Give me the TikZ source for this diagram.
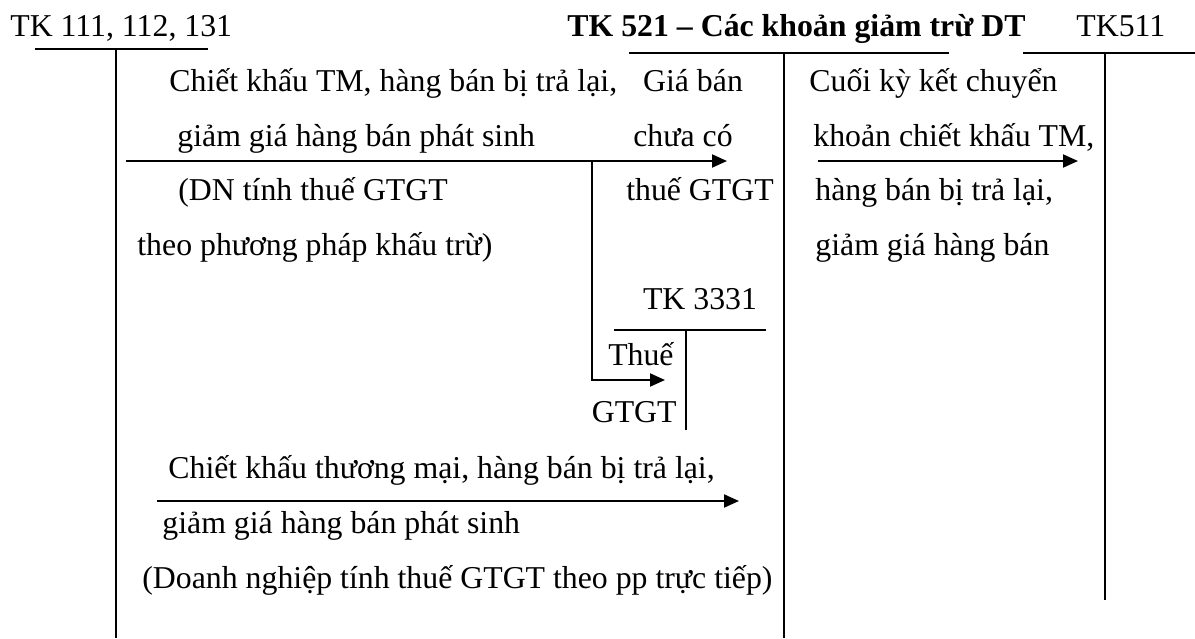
\documentclass[tikz,border=0pt]{standalone}
\usepackage{fontspec}
\setmainfont{Liberation Serif}
\usepackage{tikz}
\usetikzlibrary{positioning}
\usetikzlibrary{arrows.meta}
\newcommand{\tkfont}{\fontsize{15.9}{18}\selectfont}
\tikzset{
    taccount/.style={
            x=0.5pt,y=-0.5pt,
            font=\tkfont,
            txt/.style={inner sep=0pt,anchor=base west},
            ctxt/.style={inner sep=0pt,anchor=base},
            rtxt/.style={inner sep=0pt,anchor=base east},
            tline/.style={line width=0.8pt},
            arrow/.style={line width=1pt,-{Triangle[length=7.5pt,width=6.5pt]}}
        }
    }

\begin{document}
\begin{tikzpicture}[taccount]
                \useasboundingbox (0,0) rectangle (1195,638);
                \node[txt] (tk111) at (10,36) {TK 111, 112, 131};
                \node[txt,font=\tkfont\bfseries] (tk521) at (567,36) {TK 521 -- Các khoản giảm trừ DT};
                \node[txt] (tk511) at (1076,36) {TK511};
                \draw [tline] (35,49) -- (208,49) (116,49) -- (116,638);
                \draw [tline] (629,53) -- (949,53) (784,53) -- (784,638);
                \draw [tline] (1023,53) -- (1195,53) (1105,53) -- (1105,600);
                \node[txt] (ck1) at (169,91) {Chiết khấu TM, hàng bán bị trả lại,};
                \node[txt] (ck2) at (177,146) {giảm giá hàng bán phát sinh};
                \node[txt] (dn1) at (178,200) {(DN tính thuế GTGT};
                \node[txt] (dn2) at (137,255) {theo phương pháp khấu trừ)};
                \node[ctxt] (gb1) at (693,91) {Giá bán};
                \node[ctxt] (gb2) at (683,146) {chưa có};
                \node[ctxt] (gb3) at (700,200) {thuế GTGT};
                \node[txt] (kc1) at (809,91) {Cuối kỳ kết chuyển};
                \node[txt] (kc2) at (813,146) {khoản chiết khấu TM,};
                \node[txt] (kc3) at (815,200) {hàng bán bị trả lại,};
                \node[txt] (kc4) at (815,255) {giảm giá hàng bán};
                \node[ctxt] (tk3331) at (700,309) {TK 3331};
                \draw [tline] (614,330) -- (766,330) (686,330) -- (686,430);
                \node[rtxt] (vat1) at (674,365) {Thuế};
                \node[rtxt] (vat2) at (677,422) {GTGT};
                \node[txt] (tt1) at (168,478) {Chiết khấu thương mại, hàng bán bị trả lại,};
                \node[txt] (tt2) at (162,533) {giảm giá hàng bán phát sinh};
                \node[txt] (tt3) at (142,588) {(Doanh nghiệp tính thuế GTGT theo pp trực tiếp)};
                \coordinate (kt1) at (126,161);
                \coordinate (kt2) at (727,161);
                \coordinate (kt3) at (592,161);
                \coordinate (kt4) at (592,380);
                \coordinate (kt5) at (665,380);
                \coordinate (kc5) at (818,161);
                \coordinate (kc6) at (1078,161);
                \coordinate (tt4) at (157,501);
                \coordinate (tt5) at (739,501);
                \draw [arrow] (kt1) -- (kt2);
                \draw [arrow] (kt3) -- (kt4) -- (kt5);
                \draw [arrow] (kc5) -- (kc6);
                \draw [arrow] (tt4) -- (tt5);
            \end{tikzpicture}
\end{document}
